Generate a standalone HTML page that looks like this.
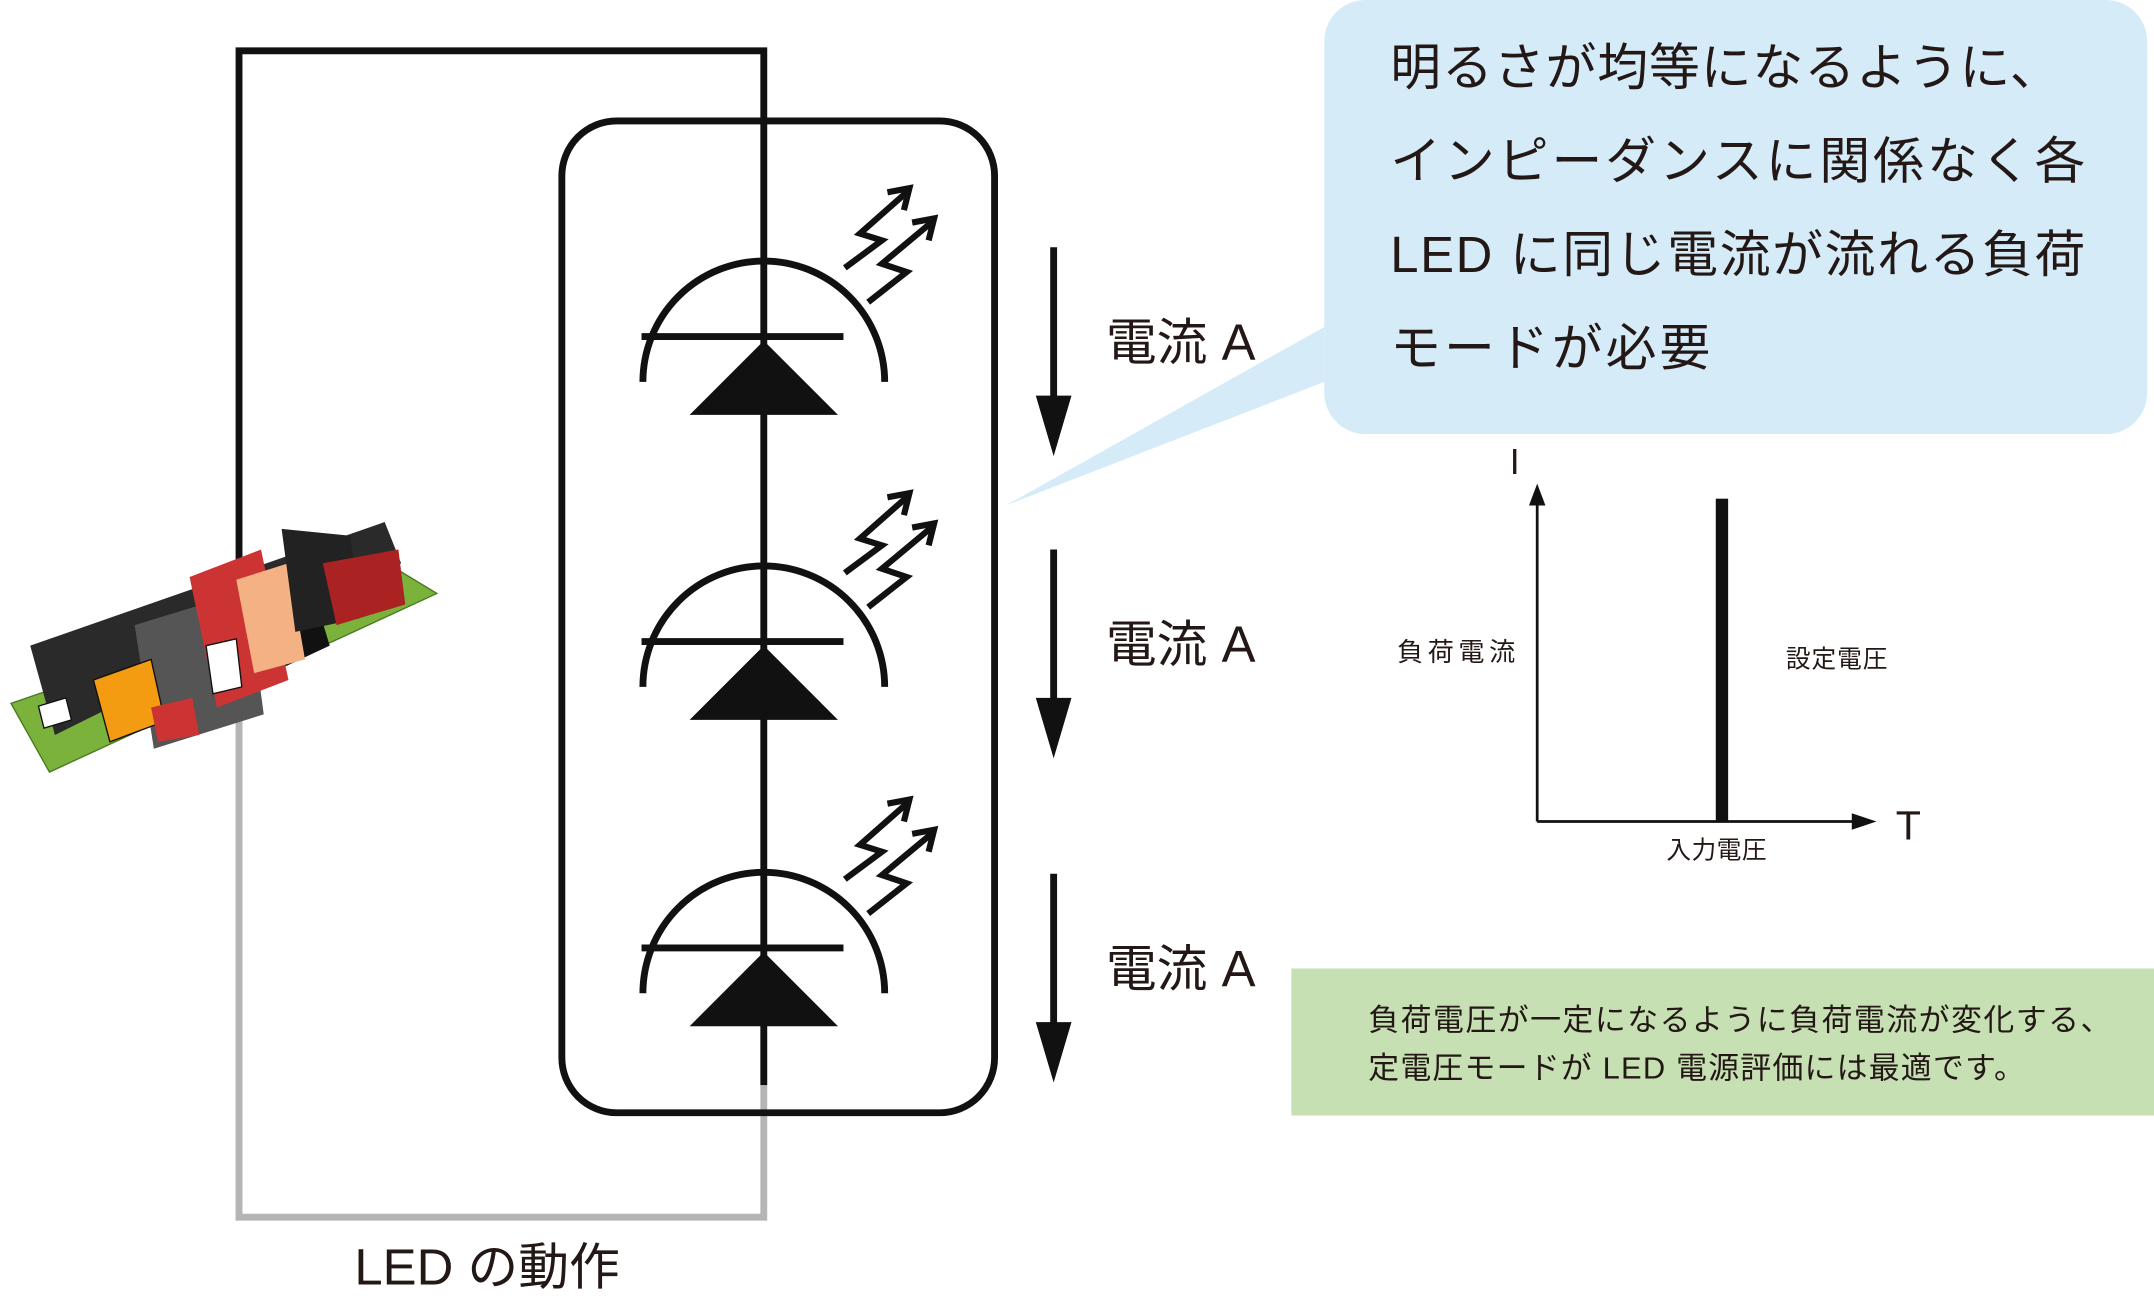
<!DOCTYPE html>
<html><head><meta charset="utf-8"><style>
html,body{margin:0;padding:0;background:#fff;width:2154px;height:1307px;overflow:hidden}
svg{display:block}
text{font-family:"Liberation Sans","Noto Sans CJK JP",sans-serif;fill:#231815}
</style></head><body>
<svg width="2154" height="1307" viewBox="0 0 1568 951.4" preserveAspectRatio="none">
<defs>
<g id="led">
<path d="M468,278 A88,88 0 0 1 644,278" fill="none" stroke="#111" stroke-width="5"/>
<line x1="467" y1="245" x2="614" y2="245" stroke="#111" stroke-width="5"/>
<polygon points="502,302 610,302 556,248" fill="#111"/>
<g fill="none" stroke="#111" stroke-width="4.5" stroke-linejoin="miter">
<polyline points="615,195 642,175 626,170 660,140"/>
<polyline points="646,140 662,137 658,153"/>
<polyline points="632,220 660,198 642,192 678,162"/>
<polyline points="664,162 680,159 676,175"/>
</g>
</g>
<g id="arr">
<line x1="767" y1="0" x2="767" y2="120" stroke="#111" stroke-width="5"/>
<polygon points="754,108 780,108 767,152" fill="#111"/>
</g>
</defs>
<polyline points="174,510 174,37 556,37 556,790" fill="none" stroke="#111" stroke-width="5"/>
<polyline points="174,505 174,886 556,886 556,790" fill="none" stroke="#b5b5b5" stroke-width="5"/>
<rect x="409" y="88" width="315" height="722" rx="40" fill="none" stroke="#111" stroke-width="5"/>
<use href="#led"/>
<use href="#led" transform="translate(0,222)"/>
<use href="#led" transform="translate(0,445)"/>
<use href="#arr" transform="translate(0,180)"/>
<use href="#arr" transform="translate(0,400)"/>
<use href="#arr" transform="translate(0,636)"/>
<text x="805" y="262" font-size="37">電流 A</text>
<text x="805" y="482" font-size="37">電流 A</text>
<text x="805" y="718" font-size="37">電流 A</text>
<!-- PCB -->
<g>
<polygon points="8,512 290,415 318,432 36,562" fill="#7ab23c" stroke="#4a7a20" stroke-width="1"/>
<polygon points="22,470 280,380 292,410 40,535" fill="#2a2a2a"/>
<polygon points="98,455 180,430 192,520 112,545" fill="#555"/>
<polygon points="138,420 190,400 210,495 158,515" fill="#c33"/>
<polygon points="188,425 222,410 240,470 208,485" fill="#111"/>
<polygon points="172,422 210,410 222,480 185,490" fill="#f4b183"/>
<polygon points="205,385 255,390 262,450 215,460" fill="#222"/>
<polygon points="235,410 290,400 295,440 245,455" fill="#a22"/>
<polygon points="68,495 110,480 120,525 80,540" fill="#f39c12" stroke="#111"/>
<polygon points="150,470 172,465 176,500 155,505" fill="#fff" stroke="#111"/>
<polygon points="110,515 140,508 145,535 115,540" fill="#c33"/>
<polygon points="28,514 48,508 52,524 32,530" fill="#fff" stroke="#111"/>
</g>
<polygon points="964,238 732,368 964,278" fill="#d5ebf8"/>
<rect x="964" y="0" width="599" height="316" rx="30" fill="#d5ebf8"/>
<g font-size="37">
<text x="1012" y="62" textLength="488" lengthAdjust="spacing">明るさが均等になるように、</text>
<text x="1012" y="130" textLength="506" lengthAdjust="spacing">インピーダンスに関係なく各</text>
<text x="1012" y="198" textLength="506" lengthAdjust="spacing">LED に同じ電流が流れる負荷</text>
<text x="1012" y="266" textLength="233" lengthAdjust="spacing">モードが必要</text>
</g>
<line x1="1119" y1="362" x2="1119" y2="598" stroke="#111" stroke-width="2"/>
<polygon points="1113,368 1125,368 1119,352" fill="#111"/>
<line x1="1119" y1="598" x2="1352" y2="598" stroke="#111" stroke-width="2"/>
<polygon points="1348,592 1348,604 1366,598" fill="#111"/>
<rect x="1249" y="363" width="9" height="235" fill="#111"/>
<text x="1099" y="345" font-size="26">I</text>
<text x="1380" y="611" font-size="30">T</text>
<text x="1017" y="481" font-size="19" textLength="86" lengthAdjust="spacing">負荷電流</text>
<text x="1300" y="486" font-size="18" textLength="74" lengthAdjust="spacing">設定電圧</text>
<text x="1213" y="625" font-size="18" textLength="73" lengthAdjust="spacing">入力電圧</text>
<rect x="940" y="705" width="628" height="107" fill="#c6e0b4"/>
<g font-size="22.5">
<text x="996" y="750" textLength="541" lengthAdjust="spacing">負荷電圧が一定になるように負荷電流が変化する、</text>
<text x="996" y="785" textLength="478" lengthAdjust="spacing">定電圧モードが LED 電源評価には最適です。</text>
</g>
<text x="258" y="935" font-size="37">LED の動作</text>
</svg>
</body></html>
